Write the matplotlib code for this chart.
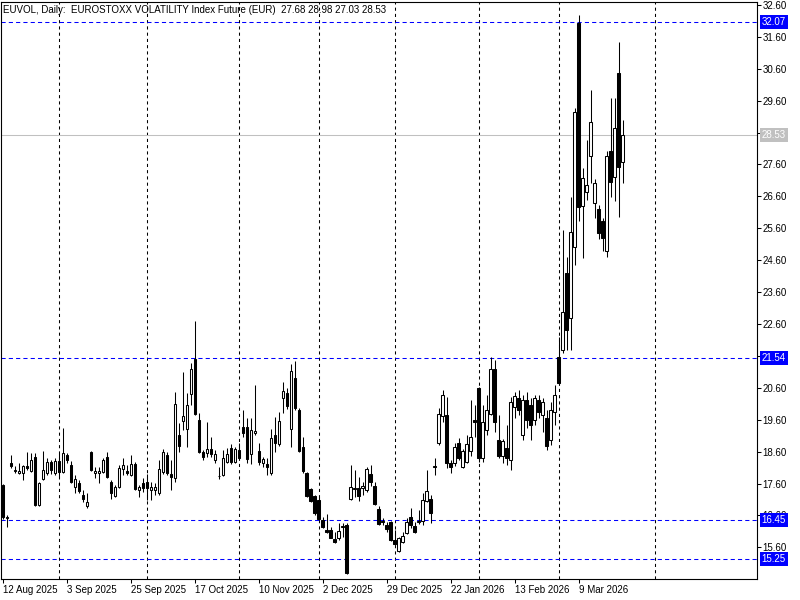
import matplotlib
matplotlib.use("Agg")
import matplotlib.pyplot as plt
import numpy as np
from matplotlib.transforms import blended_transform_factory

# EUVOL daily candles, one per trading day (12 Aug 2025 .. 24 Mar 2026)
opens = [
    17.55, 16.52, 18.24, 17.99, 17.93, 17.93, 18.15, 17.99, 18.43, 16.92,
    17.74, 17.93, 18.27, 17.93, 18.30, 17.96, 18.49, 18.18, 17.49, 17.62,
    17.24, 16.89, 18.59, 17.93, 17.93, 17.96, 18.43, 17.65, 17.20, 17.49,
    18.05, 17.99, 17.87, 18.21, 17.39, 17.62, 17.65, 17.39, 17.39, 17.30,
    17.96, 18.49, 17.90, 17.77, 19.12, 19.56, 19.31, 20.41, 21.50, 19.59,
    18.59, 18.56, 18.68, 18.34, 17.83, 17.87, 18.27, 18.71, 18.27, 18.65,
    19.37, 19.37, 18.52, 19.18, 18.62, 18.24, 18.21, 17.93, 19.12, 18.84,
    20.28, 20.44, 19.31, 20.91, 19.90, 18.74, 17.93, 17.43, 17.20, 17.08,
    16.45, 16.14, 16.14, 15.86, 15.89, 16.24, 16.30, 17.11, 17.43, 17.46,
    17.46, 17.39, 17.90, 17.52, 16.80, 16.42, 16.30, 16.39, 15.83, 15.49,
    15.77, 16.05, 16.55, 16.26, 16.39, 16.42, 17.05, 17.11, 18.13, 18.87,
    19.72, 19.75, 18.24, 18.24, 18.87, 18.12, 18.27, 18.62, 19.59, 20.59,
    18.40, 19.28, 19.78, 21.19, 18.96, 18.46, 18.71, 18.34, 20.00, 20.28,
    19.12, 20.22, 20.06, 19.59, 20.22, 19.75, 19.65, 18.96, 19.84, 21.57,
    21.79, 24.20, 22.79, 25.01, 32.04, 26.30, 26.74, 27.87, 26.39, 26.21,
    25.83, 24.89, 28.02, 27.21, 30.47, 27.68]
highs = [
    17.60, 16.61, 18.49, 18.15, 18.24, 18.18, 18.59, 18.56, 18.56, 17.64,
    18.62, 18.40, 18.34, 18.40, 18.56, 19.34, 18.56, 18.30, 17.87, 17.71,
    17.39, 17.30, 18.62, 18.12, 18.12, 18.40, 18.59, 17.71, 17.55, 18.18,
    18.40, 18.18, 18.49, 18.27, 17.55, 17.77, 17.90, 17.65, 17.62, 18.34,
    18.68, 18.59, 18.34, 20.47, 19.50, 21.10, 20.44, 21.38, 22.69, 19.81,
    18.65, 19.53, 19.06, 18.65, 18.12, 18.65, 18.71, 18.84, 18.74, 18.87,
    19.90, 19.65, 19.65, 20.69, 18.87, 18.43, 18.40, 19.31, 19.68, 19.84,
    20.78, 20.59, 21.35, 21.44, 19.97, 19.06, 17.96, 17.46, 17.24, 17.17,
    16.55, 16.64, 16.24, 16.08, 16.36, 16.36, 16.36, 18.18, 18.02, 17.80,
    17.65, 18.12, 18.18, 17.65, 16.89, 16.52, 16.39, 16.42, 16.14, 15.92,
    16.08, 16.52, 16.83, 16.39, 16.77, 17.30, 18.02, 17.24, 18.40, 19.97,
    20.53, 20.31, 18.34, 18.87, 19.03, 18.68, 19.12, 20.22, 20.06, 20.62,
    20.06, 20.38, 21.57, 21.47, 19.75, 18.99, 19.43, 20.31, 20.47, 20.53,
    20.38, 20.47, 20.28, 20.38, 20.38, 20.28, 19.90, 20.16, 20.69, 22.19,
    25.55, 24.70, 26.58, 29.37, 32.29, 27.49, 28.37, 29.94, 27.14, 26.33,
    25.92, 28.02, 29.69, 29.69, 31.44, 28.98]
lows = [
    16.50, 16.24, 18.09, 17.93, 17.90, 17.71, 18.02, 17.96, 16.89, 16.89,
    17.71, 17.87, 17.90, 17.87, 17.77, 17.93, 18.24, 17.62, 17.30, 17.30,
    17.02, 16.83, 17.99, 17.77, 17.62, 17.93, 17.77, 17.11, 17.17, 17.46,
    17.87, 17.87, 17.83, 17.39, 17.17, 17.33, 17.08, 17.08, 17.24, 17.24,
    17.90, 17.87, 17.39, 17.65, 18.59, 19.28, 18.74, 20.06, 19.75, 18.56,
    18.34, 18.43, 18.43, 18.24, 17.74, 17.83, 18.24, 18.21, 18.24, 18.34,
    19.06, 18.24, 18.21, 19.12, 18.18, 18.12, 17.87, 17.87, 18.59, 18.77,
    19.81, 19.94, 18.74, 19.90, 18.59, 17.93, 17.17, 17.02, 16.61, 16.45,
    16.20, 16.05, 15.89, 15.74, 15.83, 15.92, 14.78, 17.08, 17.17, 17.05,
    17.24, 17.33, 17.52, 16.92, 16.30, 16.30, 16.08, 15.80, 15.67, 15.46,
    15.74, 16.02, 16.20, 16.05, 16.33, 16.30, 17.02, 16.36, 17.87, 18.81,
    19.53, 18.09, 17.93, 18.15, 18.34, 18.09, 18.24, 18.46, 19.06, 18.27,
    18.27, 19.12, 19.75, 19.21, 18.40, 18.24, 18.18, 18.02, 19.65, 19.75,
    18.96, 19.34, 18.96, 19.43, 19.65, 19.21, 18.65, 18.81, 19.43, 20.69,
    21.69, 21.79, 21.79, 24.45, 25.83, 24.67, 26.49, 27.02, 25.92, 25.26,
    24.89, 24.70, 26.58, 26.46, 25.95, 27.03]
closes = [
    16.55, 16.55, 18.15, 18.02, 17.99, 18.15, 18.09, 18.34, 16.92, 17.62,
    18.02, 18.27, 18.02, 18.30, 17.96, 18.56, 18.34, 17.65, 17.74, 17.36,
    17.11, 17.02, 18.02, 17.99, 17.99, 18.34, 17.80, 17.30, 17.49, 18.09,
    18.18, 17.93, 18.21, 17.43, 17.49, 17.46, 17.46, 17.49, 17.49, 18.05,
    18.59, 17.93, 17.80, 20.09, 18.77, 19.72, 20.06, 21.19, 19.78, 18.59,
    18.43, 18.68, 18.52, 18.52, 17.85, 18.40, 18.52, 18.27, 18.68, 18.40,
    19.18, 18.37, 19.28, 19.25, 18.27, 18.37, 18.12, 19.03, 18.87, 19.56,
    20.50, 20.03, 21.13, 19.97, 18.62, 17.99, 17.20, 17.05, 16.67, 16.49,
    16.24, 16.08, 15.89, 15.77, 16.11, 16.26, 14.80, 17.49, 17.46, 17.20,
    17.52, 18.05, 17.65, 16.96, 16.33, 16.39, 16.17, 15.83, 15.70, 15.89,
    15.96, 16.39, 16.30, 16.08, 16.42, 17.08, 17.36, 16.67, 18.16, 19.78,
    20.38, 18.24, 18.12, 18.74, 18.40, 18.62, 18.84, 19.06, 19.53, 18.40,
    19.53, 19.90, 21.19, 19.53, 18.46, 18.93, 18.40, 20.16, 20.34, 19.90,
    20.22, 19.59, 19.43, 20.28, 19.84, 20.16, 18.77, 19.90, 20.38, 20.75,
    22.98, 22.41, 25.48, 29.25, 26.27, 27.18, 26.96, 28.93, 27.02, 25.45,
    25.30, 27.87, 27.05, 28.74, 27.52, 28.53]

date_ticks = [0, 16, 32, 48, 64, 80, 96, 112, 128, 144]
date_labels = ["12 Aug 2025", "3 Sep 2025", "25 Sep 2025", "17 Oct 2025",
               "10 Nov 2025", "2 Dec 2025", "29 Dec 2025", "22 Jan 2026",
               "13 Feb 2026", "9 Mar 2026"]
month_starts = [14, 36, 59, 79, 98, 119, 139, 163]
levels = [32.07, 21.54, 16.45, 15.25]
last_price = 28.53
title = "EUVOL, Daily:  EUROSTOXX VOLATILITY Index Future (EUR)  27.68 28.98 27.03 28.53"

assert len(opens) == len(highs) == len(lows) == len(closes)

plt.rcParams['font.family'] = ['Liberation Sans', 'DejaVu Sans']

fig = plt.figure(figsize=(8, 6), dpi=100)
ax = fig.add_axes([1 / 800, 21 / 600, 756 / 800, 577 / 600])

xs = np.arange(len(closes))
o = np.array(opens)
c = np.array(closes)
body_col = ['white' if cc >= oo else 'black' for oo, cc in zip(o, c)]

ax.vlines(xs, lows, highs, color='black', lw=0.75, zorder=3)
ax.bar(xs, c - o, bottom=o, width=0.58, color=body_col, edgecolor='black',
       linewidth=0.75, zorder=4)

for m in month_starts:
    ax.axvline(m, color='black', lw=0.75, ls=(0, (3, 3)), zorder=1)

for lv in levels:
    ax.axhline(lv, color='#0000ff', lw=0.75, ls=(0, (4, 3)), zorder=2)
ax.axhline(last_price, color='#c0c0c0', lw=0.75, zorder=2)

trans = blended_transform_factory(ax.transAxes, ax.transData)
for lv in levels:
    ax.text(1.006, lv, f"{lv:.2f}", transform=trans, color='white', fontsize=7,
            va='center', ha='left', clip_on=False, zorder=10,
            bbox=dict(boxstyle='square,pad=0.2', fc='#0000ff', ec='none'))
ax.text(1.006, last_price, f"{last_price:.2f}", transform=trans, color='white',
        fontsize=7, va='center', ha='left', clip_on=False, zorder=10,
        bbox=dict(boxstyle='square,pad=0.2', fc='#c0c0c0', ec='none'))

ax.set_xlim(-0.425, 188.6)
ax.set_ylim(14.61, 32.69)

ax.yaxis.tick_right()
ax.set_yticks(np.arange(15.6, 32.61, 1.0))
ax.yaxis.set_major_formatter(plt.FormatStrFormatter('%.2f'))
ax.tick_params(axis='y', direction='out', length=3, width=0.75, pad=1, labelsize=7)

ax.set_xticks(date_ticks)
ax.set_xticklabels(date_labels, ha='left')
ax.tick_params(axis='x', direction='out', length=3, width=0.75, pad=1.5, labelsize=7)

for sp in ax.spines.values():
    sp.set_linewidth(0.8)

fig.text(3 / 800, 1 - 10 / 600, title, fontsize=7, va='center', ha='left')

fig.savefig('out.png', dpi=100)
